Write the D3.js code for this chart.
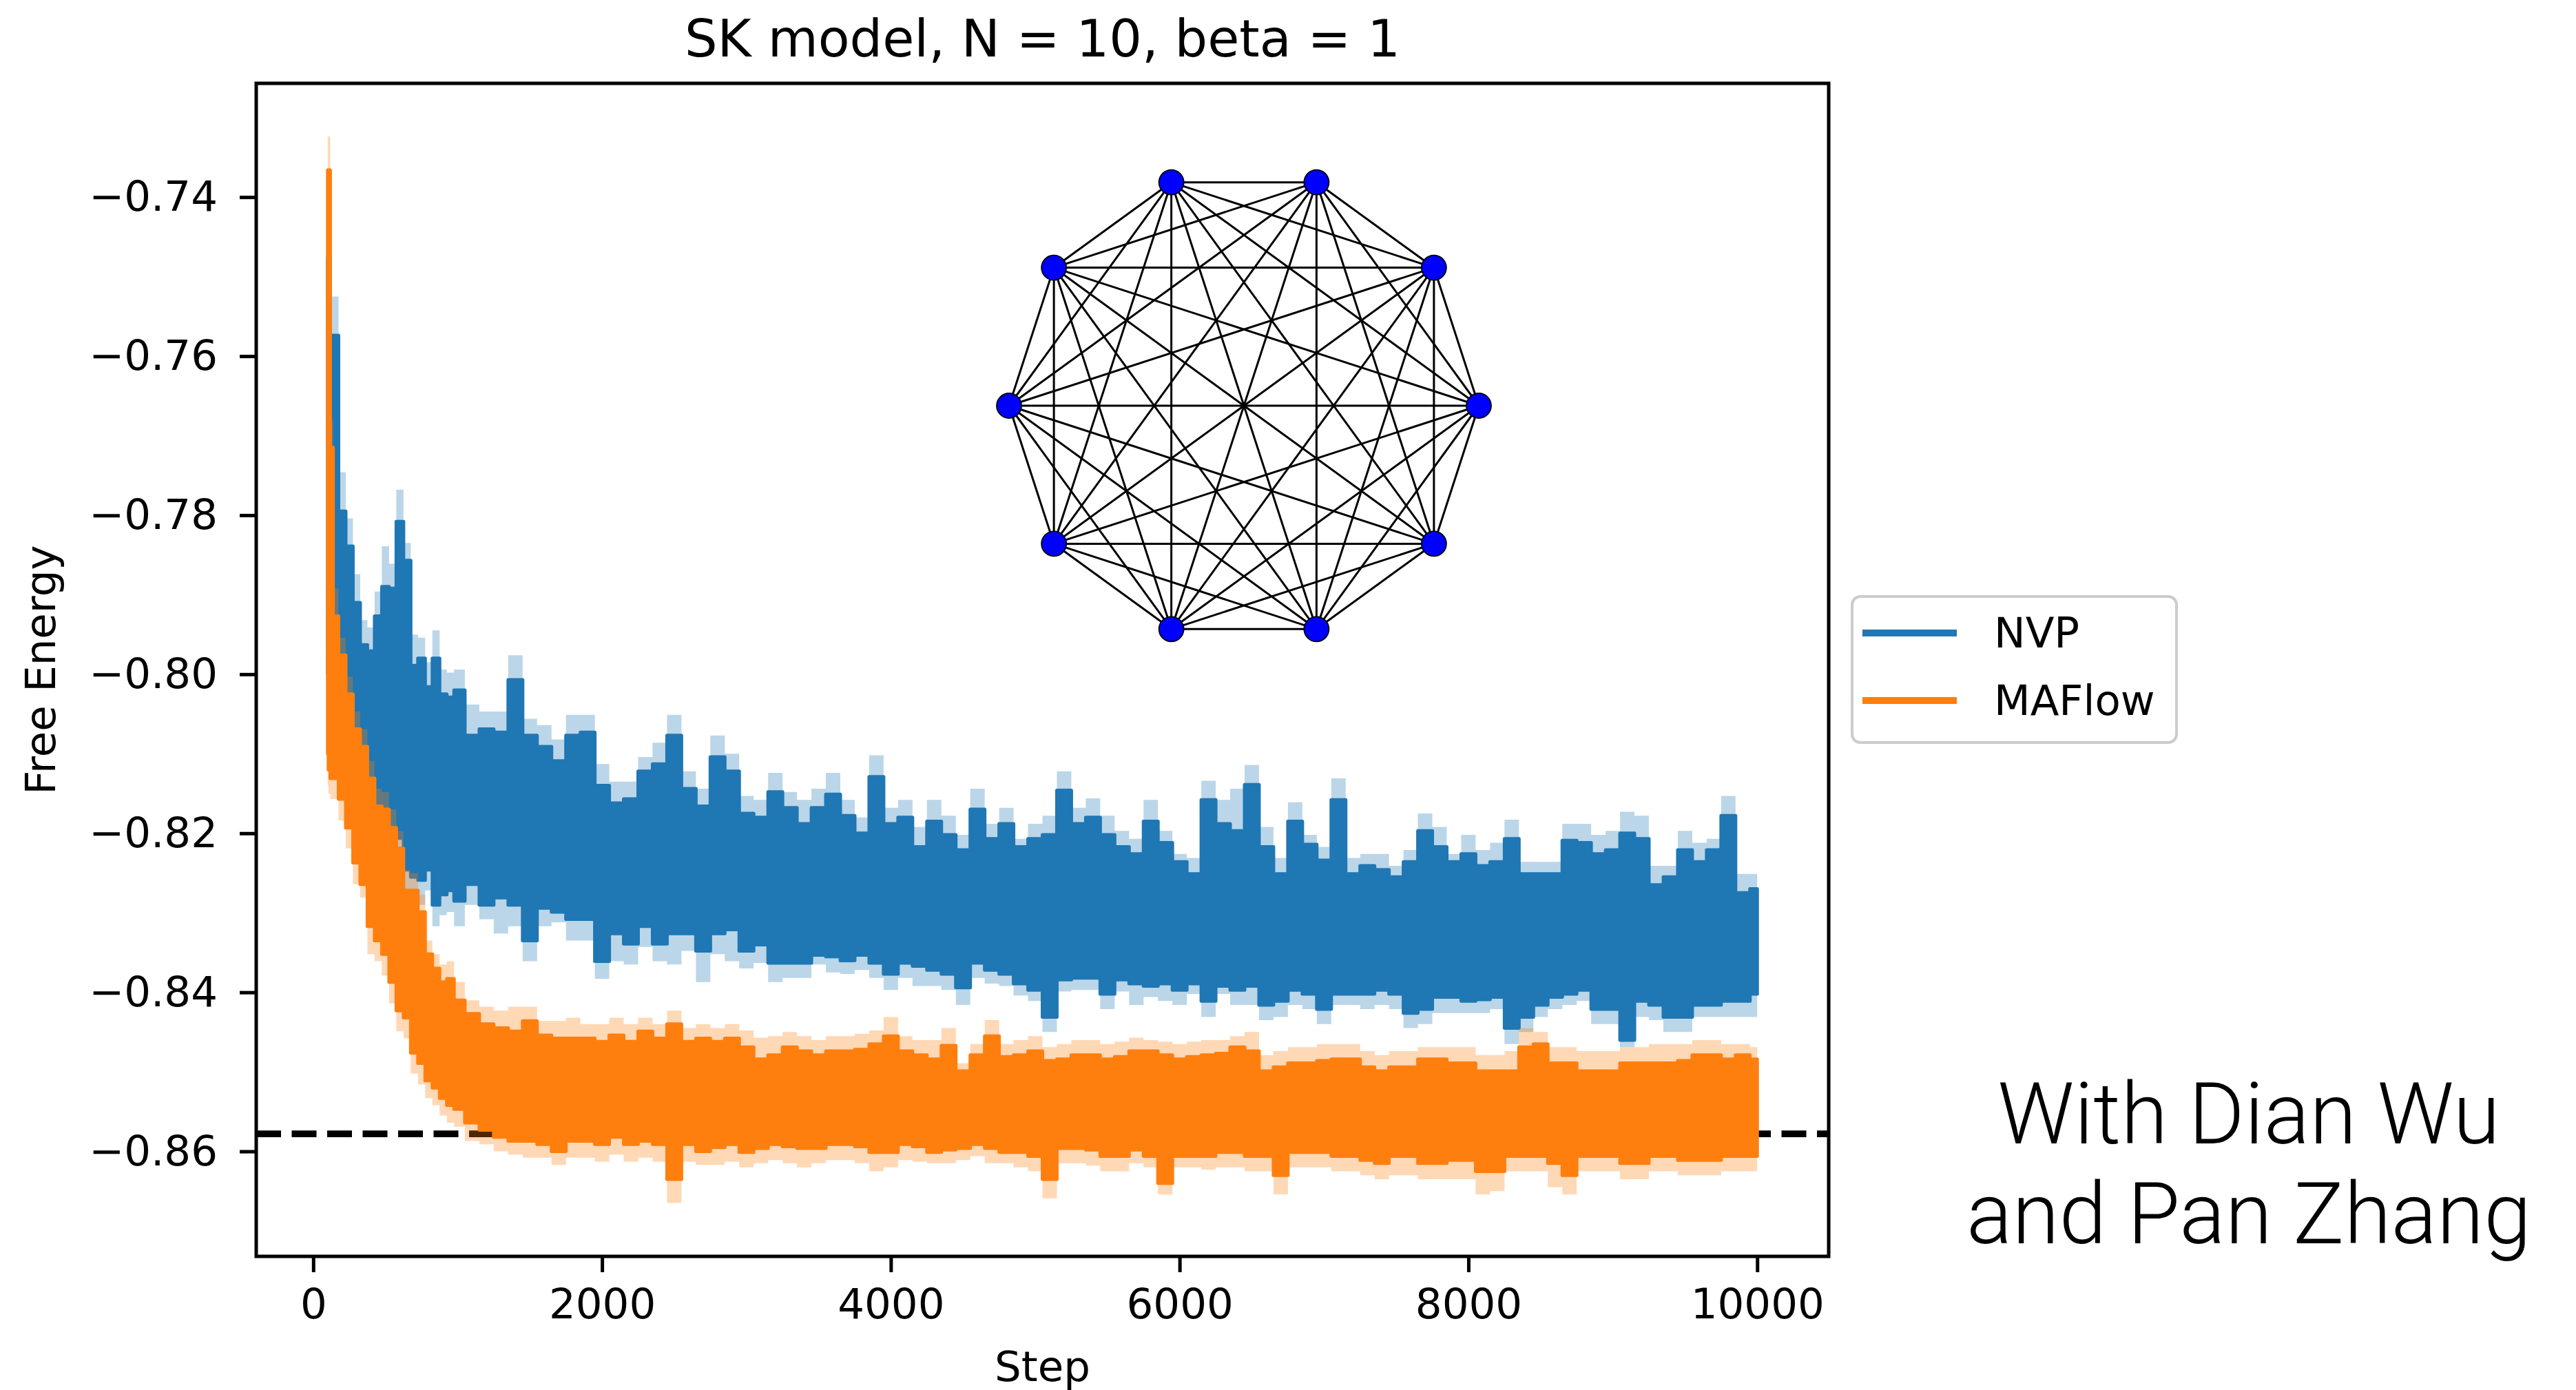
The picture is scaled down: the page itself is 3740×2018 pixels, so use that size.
<!DOCTYPE html>
<html>
<head>
<meta charset="utf-8">
<script src="https://cdn.jsdelivr.net/npm/d3@7"></script>
<style>
  html, body { margin: 0; padding: 0; background: #ffffff; }
  svg { display: block; }
</style>
</head>
<body>
<svg id="chart" width="3740" height="2018"></svg>
<script>
// Training steps at which the free-energy envelopes are recorded
const steps = [100, 110, 125, 150, 200, 250, 300, 350, 400, 450, 500, 550, 600, 650, 700, 750, 800, 850, 900, 950, 1000,
  1100, 1200, 1300, 1400, 1500, 1600, 1700, 1800, 1900, 2000, 2100, 2200, 2300, 2400, 2500, 2600, 2700, 2800, 2900,
  3000, 3100, 3200, 3300, 3400, 3500, 3600, 3700, 3800, 3900, 4000, 4100, 4200, 4300, 4400, 4500, 4600, 4700, 4800, 4900,
  5000, 5100, 5200, 5300, 5400, 5500, 5600, 5700, 5800, 5900, 6000, 6100, 6200, 6300, 6400, 6500, 6600, 6700, 6800, 6900,
  7000, 7100, 7200, 7300, 7400, 7500, 7600, 7700, 7800, 7900, 8000, 8100, 8200, 8300, 8400, 8500, 8600, 8700, 8800, 8900,
  9000, 9100, 9200, 9300, 9400, 9500, 9600, 9700, 9800, 9900, 10000];

// NVP: upper / lower reach of the noisy free-energy curve
const nvpHigh = [-0.7476, -0.7476, -0.7574, -0.7574, -0.7795, -0.7839, -0.7910, -0.7963, -0.7971, -0.7927, -0.7890, -0.7892, -0.7808, -0.7857, -0.7989, -0.7980, -0.8016, -0.7980, -0.8025, -0.8029, -0.8020,
  -0.8077, -0.8069, -0.8073, -0.8007, -0.8077, -0.8091, -0.8109, -0.8077, -0.8073, -0.8140, -0.8162, -0.8157, -0.8122, -0.8113, -0.8077, -0.8144, -0.8166, -0.8104, -0.8122,
  -0.8175, -0.8180, -0.8148, -0.8168, -0.8188, -0.8168, -0.8151, -0.8178, -0.8200, -0.8129, -0.8188, -0.8180, -0.8217, -0.8185, -0.8202, -0.8221, -0.8170, -0.8207, -0.8188, -0.8217,
  -0.8207, -0.8202, -0.8146, -0.8188, -0.8180, -0.8202, -0.8217, -0.8226, -0.8185, -0.8212, -0.8236, -0.8251, -0.8158, -0.8188, -0.8197, -0.8139, -0.8217, -0.8251, -0.8185, -0.8214,
  -0.8234, -0.8158, -0.8251, -0.8241, -0.8246, -0.8255, -0.8236, -0.8197, -0.8217, -0.8236, -0.8226, -0.8241, -0.8236, -0.8207, -0.8251, -0.8251, -0.8251, -0.8209, -0.8212, -0.8226,
  -0.8221, -0.8200, -0.8207, -0.8265, -0.8255, -0.8221, -0.8236, -0.8221, -0.8178, -0.8275, -0.8270];
const nvpLow = [-0.8000, -0.8000, -0.8000, -0.8000, -0.8050, -0.8080, -0.8110, -0.8130, -0.8170, -0.8184, -0.8193, -0.8202, -0.8206, -0.8246, -0.8255, -0.8259, -0.8246, -0.8290, -0.8277, -0.8272, -0.8285,
  -0.8264, -0.8290, -0.8281, -0.8290, -0.8335, -0.8294, -0.8299, -0.8308, -0.8308, -0.8361, -0.8326, -0.8339, -0.8317, -0.8339, -0.8326, -0.8326, -0.8348, -0.8326, -0.8321,
  -0.8348, -0.8340, -0.8363, -0.8363, -0.8363, -0.8353, -0.8355, -0.8360, -0.8353, -0.8363, -0.8377, -0.8363, -0.8367, -0.8372, -0.8377, -0.8394, -0.8363, -0.8372, -0.8377, -0.8389,
  -0.8397, -0.8431, -0.8384, -0.8382, -0.8382, -0.8402, -0.8384, -0.8389, -0.8392, -0.8389, -0.8397, -0.8389, -0.8411, -0.8392, -0.8397, -0.8392, -0.8416, -0.8411, -0.8397, -0.8402,
  -0.8421, -0.8402, -0.8402, -0.8402, -0.8397, -0.8402, -0.8426, -0.8421, -0.8406, -0.8406, -0.8411, -0.8409, -0.8406, -0.8445, -0.8431, -0.8416, -0.8406, -0.8402, -0.8397, -0.8421,
  -0.8421, -0.8460, -0.8411, -0.8416, -0.8431, -0.8431, -0.8416, -0.8416, -0.8411, -0.8411, -0.8402];
// NVP: edges of the shaded spread band
const nvpBandHigh = [-0.7462, -0.7462, -0.7525, -0.7525, -0.7746, -0.7804, -0.7874, -0.7932, -0.7941, -0.7896, -0.7839, -0.7861, -0.7768, -0.7835, -0.7950, -0.7954, -0.7985, -0.7945, -0.7994, -0.7998, -0.7994,
  -0.8038, -0.8047, -0.8047, -0.7976, -0.8056, -0.8064, -0.8082, -0.8051, -0.8051, -0.8113, -0.8135, -0.8135, -0.8104, -0.8086, -0.8051, -0.8122, -0.8144, -0.8077, -0.8100,
  -0.8153, -0.8158, -0.8124, -0.8148, -0.8158, -0.8144, -0.8124, -0.8158, -0.8180, -0.8102, -0.8168, -0.8158, -0.8192, -0.8158, -0.8178, -0.8202, -0.8144, -0.8188, -0.8168, -0.8207,
  -0.8188, -0.8178, -0.8122, -0.8168, -0.8156, -0.8178, -0.8197, -0.8207, -0.8158, -0.8197, -0.8226, -0.8231, -0.8134, -0.8158, -0.8144, -0.8114, -0.8192, -0.8231, -0.8161, -0.8202,
  -0.8217, -0.8131, -0.8231, -0.8226, -0.8226, -0.8241, -0.8221, -0.8175, -0.8192, -0.8226, -0.8202, -0.8221, -0.8212, -0.8183, -0.8236, -0.8236, -0.8236, -0.8188, -0.8188, -0.8202,
  -0.8197, -0.8173, -0.8178, -0.8241, -0.8241, -0.8197, -0.8212, -0.8207, -0.8153, -0.8251, -0.8251];
const nvpBandLow = [-0.8030, -0.8030, -0.8030, -0.8030, -0.8080, -0.8110, -0.8140, -0.8160, -0.8210, -0.8210, -0.8219, -0.8228, -0.8237, -0.8277, -0.8281, -0.8290, -0.8272, -0.8317, -0.8303, -0.8299, -0.8317,
  -0.8290, -0.8308, -0.8326, -0.8317, -0.8361, -0.8317, -0.8312, -0.8335, -0.8335, -0.8383, -0.8361, -0.8365, -0.8343, -0.8361, -0.8365, -0.8348, -0.8387, -0.8352, -0.8361,
  -0.8370, -0.8363, -0.8387, -0.8382, -0.8382, -0.8365, -0.8375, -0.8377, -0.8372, -0.8382, -0.8397, -0.8382, -0.8392, -0.8392, -0.8397, -0.8416, -0.8382, -0.8389, -0.8392, -0.8404,
  -0.8411, -0.8450, -0.8399, -0.8397, -0.8397, -0.8421, -0.8399, -0.8416, -0.8406, -0.8411, -0.8416, -0.8402, -0.8431, -0.8402, -0.8416, -0.8416, -0.8435, -0.8431, -0.8416, -0.8421,
  -0.8440, -0.8416, -0.8416, -0.8421, -0.8416, -0.8421, -0.8445, -0.8440, -0.8426, -0.8426, -0.8426, -0.8426, -0.8421, -0.8465, -0.8450, -0.8431, -0.8421, -0.8416, -0.8411, -0.8440,
  -0.8440, -0.8469, -0.8431, -0.8435, -0.8450, -0.8450, -0.8431, -0.8431, -0.8431, -0.8431, -0.8431];

// MAFlow: upper / lower reach of the noisy free-energy curve
const maflowHigh = [-0.7366, -0.7366, -0.7715, -0.7927, -0.7976, -0.8025, -0.8069, -0.8091, -0.8131, -0.8166, -0.8170, -0.8193, -0.8219, -0.8272, -0.8272, -0.8299, -0.8352, -0.8370, -0.8387, -0.8383, -0.8410,
  -0.8427, -0.8440, -0.8445, -0.8449, -0.8436, -0.8454, -0.8458, -0.8458, -0.8458, -0.8462, -0.8454, -0.8462, -0.8449, -0.8458, -0.8440, -0.8462, -0.8458, -0.8462, -0.8458,
  -0.8469, -0.8484, -0.8479, -0.8469, -0.8474, -0.8479, -0.8474, -0.8474, -0.8472, -0.8465, -0.8455, -0.8474, -0.8479, -0.8484, -0.8467, -0.8499, -0.8479, -0.8455, -0.8481, -0.8479,
  -0.8474, -0.8486, -0.8484, -0.8479, -0.8479, -0.8484, -0.8481, -0.8474, -0.8474, -0.8479, -0.8484, -0.8481, -0.8479, -0.8477, -0.8469, -0.8474, -0.8499, -0.8494, -0.8489, -0.8489,
  -0.8486, -0.8484, -0.8484, -0.8494, -0.8499, -0.8494, -0.8494, -0.8484, -0.8484, -0.8489, -0.8489, -0.8499, -0.8499, -0.8499, -0.8469, -0.8465, -0.8489, -0.8489, -0.8499, -0.8499,
  -0.8499, -0.8489, -0.8489, -0.8489, -0.8489, -0.8486, -0.8479, -0.8479, -0.8484, -0.8479, -0.8484];
const maflowLow = [-0.8100, -0.8120, -0.8131, -0.8131, -0.8157, -0.8193, -0.8237, -0.8264, -0.8317, -0.8335, -0.8352, -0.8387, -0.8423, -0.8432, -0.8476, -0.8489, -0.8511, -0.8520, -0.8533, -0.8542, -0.8547,
  -0.8564, -0.8573, -0.8582, -0.8587, -0.8587, -0.8591, -0.8600, -0.8587, -0.8587, -0.8591, -0.8582, -0.8591, -0.8587, -0.8591, -0.8635, -0.8591, -0.8600, -0.8595, -0.8591,
  -0.8601, -0.8596, -0.8591, -0.8594, -0.8596, -0.8596, -0.8591, -0.8591, -0.8594, -0.8601, -0.8601, -0.8591, -0.8594, -0.8601, -0.8598, -0.8596, -0.8591, -0.8596, -0.8601, -0.8601,
  -0.8606, -0.8635, -0.8596, -0.8596, -0.8598, -0.8606, -0.8606, -0.8598, -0.8606, -0.8640, -0.8606, -0.8606, -0.8606, -0.8601, -0.8601, -0.8606, -0.8606, -0.8630, -0.8601, -0.8601,
  -0.8601, -0.8606, -0.8606, -0.8611, -0.8615, -0.8606, -0.8606, -0.8615, -0.8615, -0.8611, -0.8611, -0.8625, -0.8625, -0.8606, -0.8606, -0.8606, -0.8615, -0.8630, -0.8606, -0.8606,
  -0.8606, -0.8615, -0.8615, -0.8606, -0.8606, -0.8611, -0.8611, -0.8611, -0.8606, -0.8606, -0.8606];
// MAFlow: edges of the shaded spread band
const maflowBandHigh = [-0.7324, -0.7324, -0.7680, -0.7892, -0.7954, -0.8003, -0.8047, -0.8069, -0.8109, -0.8144, -0.8148, -0.8170, -0.8197, -0.8246, -0.8250, -0.8277, -0.8335, -0.8352, -0.8365, -0.8361, -0.8387,
  -0.8410, -0.8418, -0.8423, -0.8418, -0.8418, -0.8436, -0.8436, -0.8432, -0.8440, -0.8440, -0.8432, -0.8440, -0.8432, -0.8440, -0.8423, -0.8445, -0.8440, -0.8445, -0.8440,
  -0.8448, -0.8457, -0.8455, -0.8450, -0.8455, -0.8460, -0.8455, -0.8455, -0.8452, -0.8448, -0.8431, -0.8455, -0.8460, -0.8460, -0.8445, -0.8489, -0.8465, -0.8435, -0.8465, -0.8460,
  -0.8455, -0.8469, -0.8465, -0.8460, -0.8460, -0.8465, -0.8462, -0.8457, -0.8460, -0.8462, -0.8465, -0.8462, -0.8460, -0.8460, -0.8455, -0.8450, -0.8479, -0.8474, -0.8469, -0.8469,
  -0.8465, -0.8465, -0.8465, -0.8474, -0.8479, -0.8474, -0.8474, -0.8469, -0.8469, -0.8469, -0.8469, -0.8479, -0.8479, -0.8474, -0.8445, -0.8450, -0.8469, -0.8469, -0.8474, -0.8474,
  -0.8474, -0.8469, -0.8469, -0.8465, -0.8465, -0.8465, -0.8460, -0.8460, -0.8465, -0.8465, -0.8469];
const maflowBandLow = [-0.8140, -0.8150, -0.8157, -0.8157, -0.8184, -0.8219, -0.8264, -0.8281, -0.8352, -0.8361, -0.8379, -0.8414, -0.8449, -0.8458, -0.8502, -0.8516, -0.8533, -0.8542, -0.8555, -0.8564, -0.8569,
  -0.8587, -0.8591, -0.8600, -0.8604, -0.8608, -0.8608, -0.8617, -0.8608, -0.8608, -0.8613, -0.8604, -0.8613, -0.8608, -0.8613, -0.8665, -0.8613, -0.8617, -0.8617, -0.8613,
  -0.8620, -0.8615, -0.8611, -0.8615, -0.8620, -0.8615, -0.8611, -0.8611, -0.8615, -0.8625, -0.8620, -0.8611, -0.8613, -0.8615, -0.8615, -0.8611, -0.8606, -0.8615, -0.8615, -0.8620,
  -0.8625, -0.8659, -0.8615, -0.8615, -0.8618, -0.8625, -0.8625, -0.8615, -0.8620, -0.8654, -0.8620, -0.8620, -0.8623, -0.8620, -0.8620, -0.8625, -0.8625, -0.8654, -0.8620, -0.8620,
  -0.8620, -0.8625, -0.8625, -0.8630, -0.8635, -0.8630, -0.8630, -0.8635, -0.8635, -0.8635, -0.8635, -0.8654, -0.8650, -0.8625, -0.8625, -0.8625, -0.8645, -0.8654, -0.8625, -0.8625,
  -0.8625, -0.8635, -0.8635, -0.8625, -0.8625, -0.8630, -0.8630, -0.8630, -0.8625, -0.8625, -0.8625];

// Exact ground-state free energy (dashed reference line)
const exactFreeEnergy = -0.8578;

const xTicks = [0, 2000, 4000, 6000, 8000, 10000];
const yTicks = [-0.86, -0.84, -0.82, -0.80, -0.78, -0.76, -0.74];
const seriesNames = ["NVP", "MAFlow"];
const seriesColors = ["#1f77b4", "#ff7f0e"];
const graphSize = 10;   // spins in the fully connected SK graph
const credits = ["With Dian Wu", "and Pan Zhang"];

const svg = d3.select("#chart");
svg.append("rect").attr("width", 3740).attr("height", 2018).attr("fill", "#ffffff");

const frame = { left: 372, right: 2655, top: 121, bottom: 1824 };

// Axis limits with a 5% margin around the data, as in the original plot
const xPad = (d3.max(steps) - d3.min(steps)) * 0.05;
const x = d3.scaleLinear()
  .domain([d3.min(steps) - xPad, d3.max(steps) + xPad])
  .range([frame.left, frame.right]);
const yLo = d3.min(nvpBandLow.concat(maflowBandLow));
const yHi = d3.max(nvpBandHigh.concat(maflowBandHigh));
const yPad = (yHi - yLo) * 0.05;
const y = d3.scaleLinear()
  .domain([yLo - yPad, yHi + yPad])
  .range([frame.bottom, frame.top]);

svg.append("defs").append("clipPath").attr("id", "plotClip")
  .append("rect")
  .attr("x", frame.left).attr("y", frame.top)
  .attr("width", frame.right - frame.left).attr("height", frame.bottom - frame.top);

const plot = svg.append("g").attr("clip-path", "url(#plotClip)");

// Exact value, drawn beneath the curves
plot.append("line")
  .attr("x1", frame.left).attr("x2", frame.right)
  .attr("y1", y(exactFreeEnergy)).attr("y2", y(exactFreeEnergy))
  .attr("stroke", "#000").attr("stroke-width", 9.7)
  .attr("stroke-dasharray", "36 15.5");

const series = [
  { hi: nvpHigh, lo: nvpLow, bandHi: nvpBandHigh, bandLo: nvpBandLow, color: seriesColors[0] },
  { hi: maflowHigh, lo: maflowLow, bandHi: maflowBandHigh, bandLo: maflowBandLow, color: seriesColors[1] }
];

// Each recorded step is drawn as a flat segment, giving the blocky edges of a dense noisy trace
series.forEach(s => {
  const rows = steps.map((st, i) => ({ step: st, hi: s.hi[i], lo: s.lo[i], bhi: s.bandHi[i], blo: s.bandLo[i] }));
  const band = d3.area().x(d => x(d.step)).y0(d => y(d.blo)).y1(d => y(d.bhi)).curve(d3.curveStep);
  const body = d3.area().x(d => x(d.step)).y0(d => y(d.lo)).y1(d => y(d.hi)).curve(d3.curveStep);
  plot.append("path").datum(rows).attr("d", band).attr("fill", s.color).attr("fill-opacity", 0.3);
  plot.append("path").datum(rows).attr("d", body).attr("fill", s.color)
    .attr("stroke", s.color).attr("stroke-width", 5).attr("stroke-linejoin", "round");
});

// Inset: the fully connected SK interaction graph on a circle
const gx = d3.scaleLinear().domain([-1, 1]).range([1806 - 341, 1806 + 341]);
const gy = d3.scaleLinear().domain([-1, 1]).range([589 + 341, 589 - 341]);
const nodes = d3.range(graphSize).map(i => {
  const a = 2 * Math.PI * i / graphSize;
  return { id: i, px: Math.cos(a), py: Math.sin(a) };
});
const edges = [];
for (let i = 0; i < graphSize; i++) for (let j = i + 1; j < graphSize; j++) edges.push([nodes[i], nodes[j]]);
const graph = svg.append("g");
graph.selectAll("line").data(edges).join("line")
  .attr("x1", d => gx(d[0].px)).attr("y1", d => gy(d[0].py))
  .attr("x2", d => gx(d[1].px)).attr("y2", d => gy(d[1].py))
  .attr("stroke", "#000").attr("stroke-width", 3);
graph.selectAll("circle").data(nodes).join("circle")
  .attr("cx", d => gx(d.px)).attr("cy", d => gy(d.py)).attr("r", 18)
  .attr("fill", "#0000ff").attr("stroke", "#000").attr("stroke-width", 1.8);

// Axes
const tickFont = "'DejaVu Sans', sans-serif";
const xAxis = svg.append("g").attr("transform", `translate(0,${frame.bottom})`)
  .call(d3.axisBottom(x).tickValues(xTicks).tickFormat(d3.format("d")).tickSize(23).tickPadding(24));
const yAxis = svg.append("g").attr("transform", `translate(${frame.left},0)`)
  .call(d3.axisLeft(y).tickValues(yTicks).tickFormat(d3.format(".2f")).tickSize(24).tickPadding(32));
[xAxis, yAxis].forEach(a => {
  a.select(".domain").remove();
  a.selectAll(".tick line").attr("stroke", "#000").attr("stroke-width", 5);
  a.selectAll(".tick text").attr("font-family", tickFont).attr("font-size", 61).attr("fill", "#000");
});

// Frame
svg.append("rect")
  .attr("x", frame.left).attr("y", frame.top)
  .attr("width", frame.right - frame.left).attr("height", frame.bottom - frame.top)
  .attr("fill", "none").attr("stroke", "#000").attr("stroke-width", 5);

// Titles
svg.append("text").attr("x", (frame.left + frame.right) / 2).attr("y", 82)
  .attr("text-anchor", "middle").attr("font-family", tickFont).attr("font-size", 75)
  .text("SK model, N = 10, beta = 1");
svg.append("text").attr("x", (frame.left + frame.right) / 2).attr("y", 2005)
  .attr("text-anchor", "middle").attr("font-family", tickFont).attr("font-size", 61)
  .text("Step");
svg.append("text").attr("transform", `translate(80,${(frame.top + frame.bottom) / 2}) rotate(-90)`)
  .attr("text-anchor", "middle").attr("font-family", tickFont).attr("font-size", 61)
  .text("Free Energy");

// Legend
const legend = svg.append("g");
legend.append("rect").attr("x", 2689).attr("y", 866).attr("width", 471).attr("height", 212)
  .attr("rx", 12).attr("fill", "#ffffff").attr("fill-opacity", 0.8)
  .attr("stroke", "#cccccc").attr("stroke-width", 4);
seriesNames.forEach((name, i) => {
  const ly = 919 + i * 98;
  legend.append("line").attr("x1", 2704).attr("x2", 2841).attr("y1", ly).attr("y2", ly)
    .attr("stroke", seriesColors[i]).attr("stroke-width", 10);
  legend.append("text").attr("x", 2895).attr("y", ly).attr("dy", "0.35em")
    .attr("font-family", tickFont).attr("font-size", 61).text(name);
});

// Credits
svg.selectAll("text.credit").data(credits).join("text").attr("class", "credit")
  .attr("x", 3265).attr("y", (d, i) => 1660 + i * 145)
  .attr("text-anchor", "middle")
  .attr("font-family", "Roboto, 'Liberation Sans', sans-serif").attr("font-weight", 300)
  .attr("font-size", 124).attr("fill", "#000")
  .text(d => d);
</script>
</body>
</html>
